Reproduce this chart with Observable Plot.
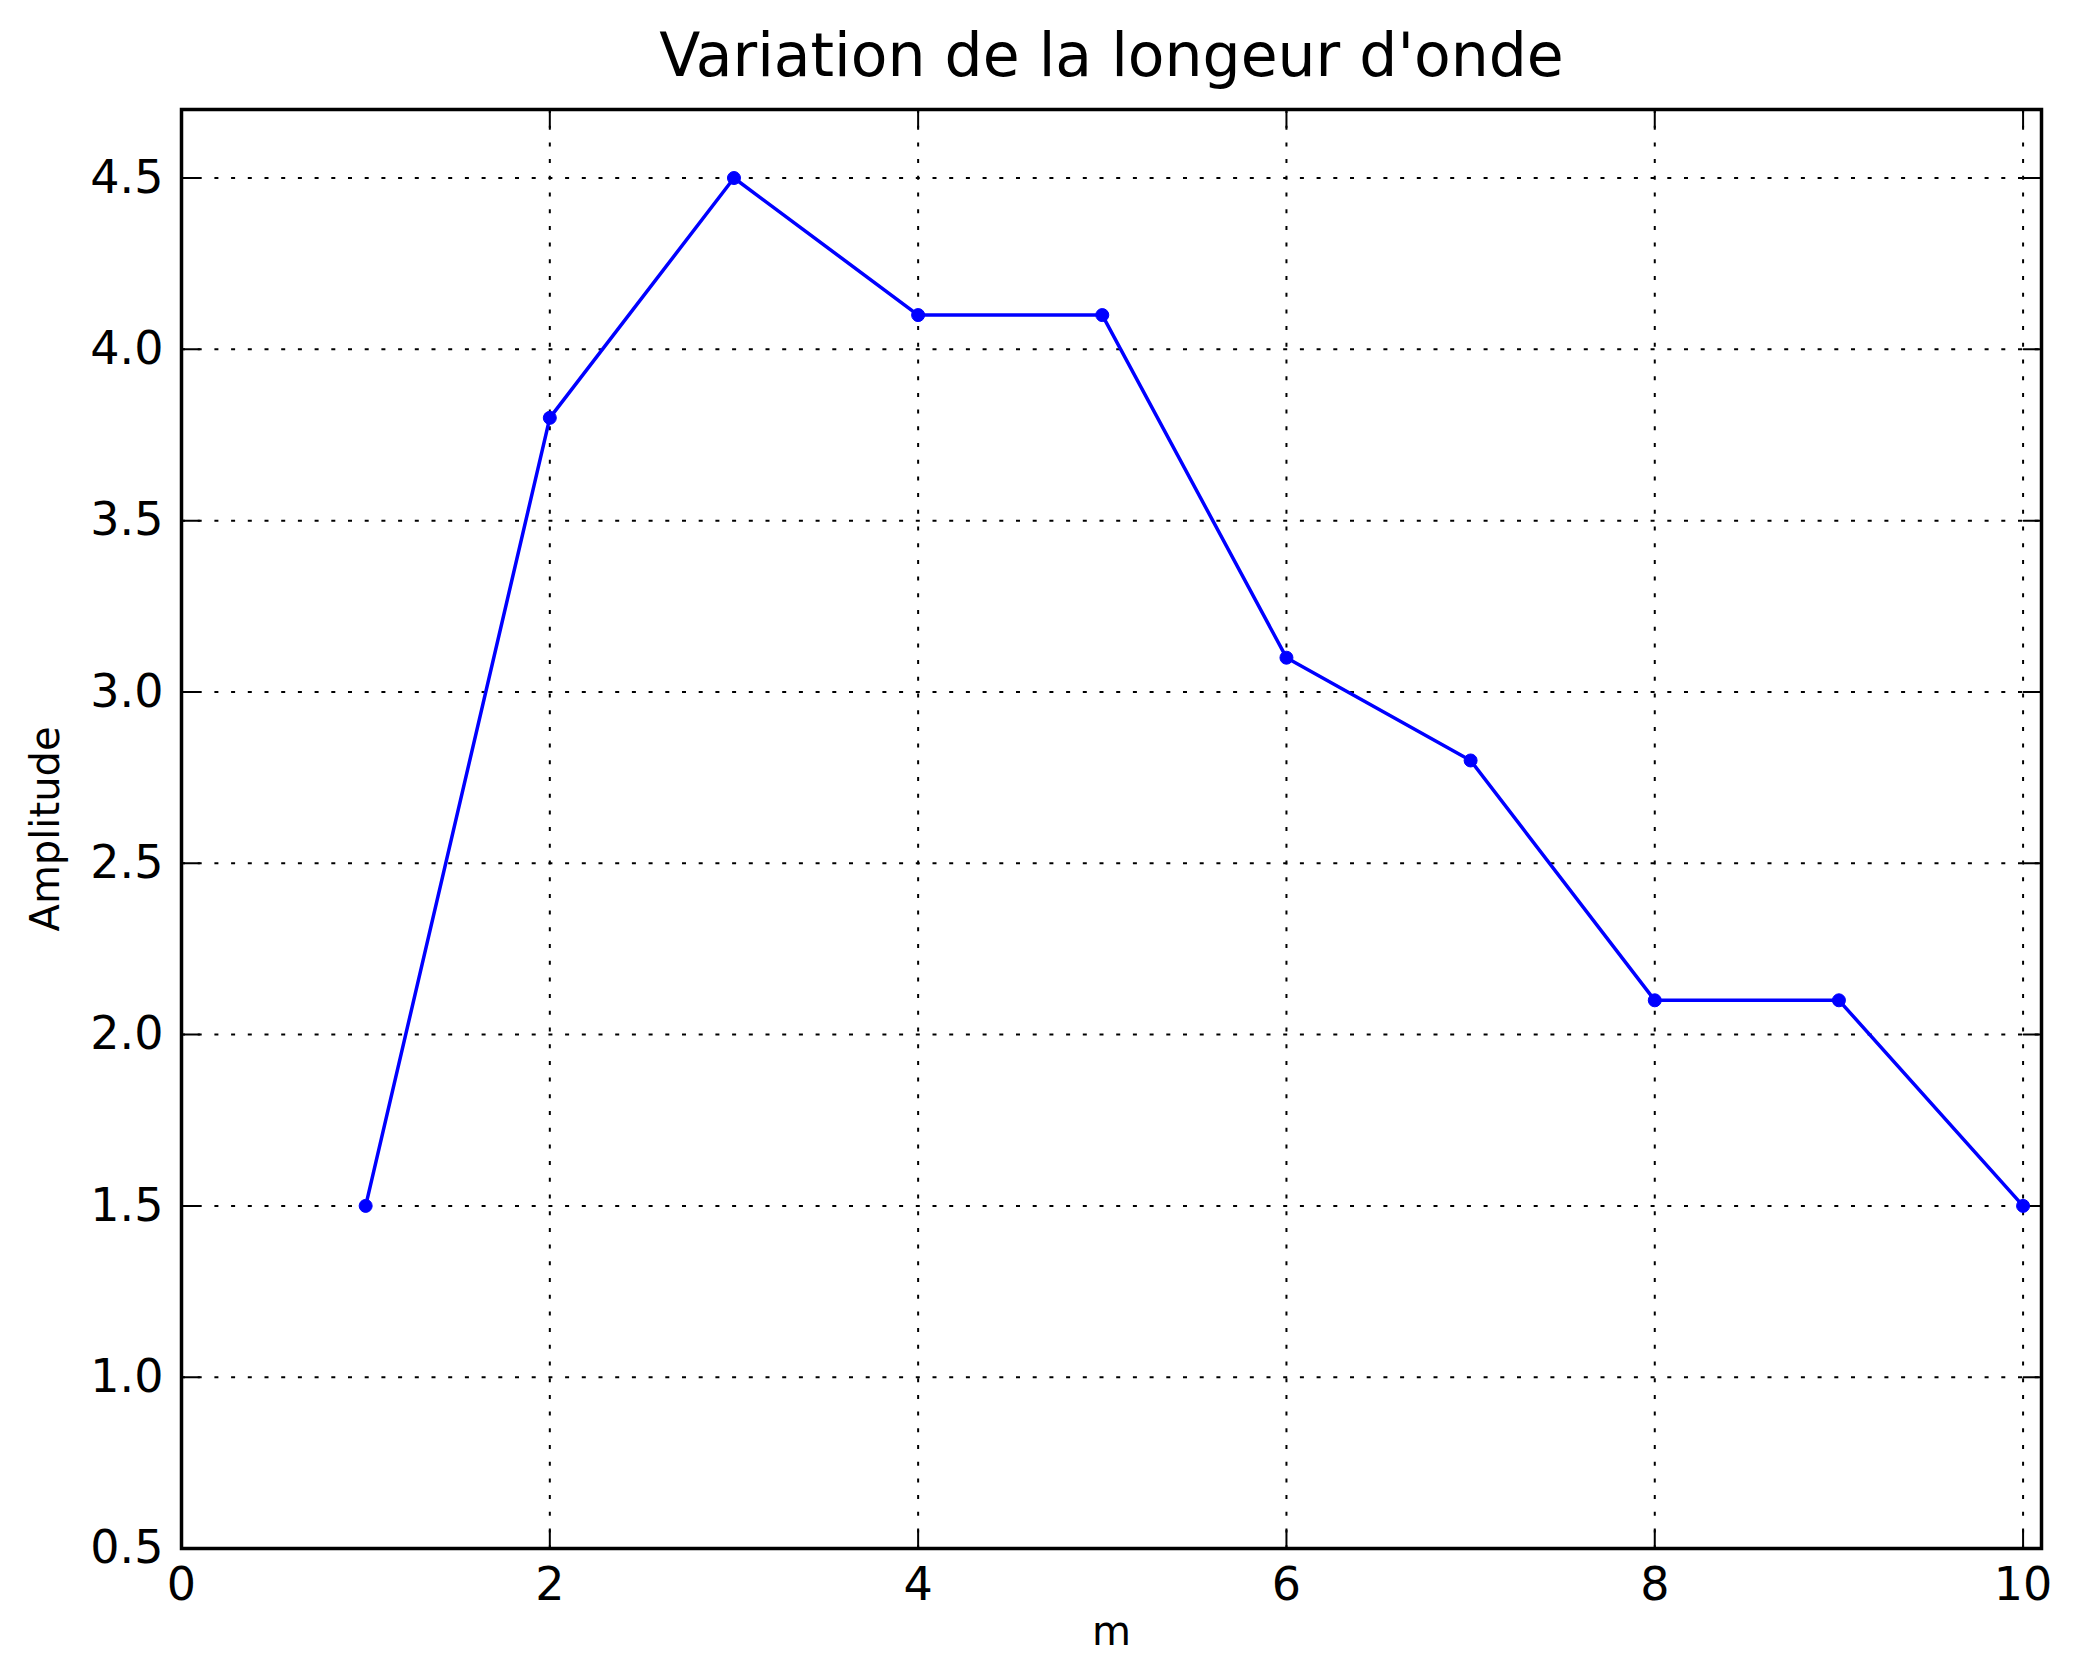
<!DOCTYPE html>
<html>
<head>
<meta charset="utf-8">
<script src="https://cdn.jsdelivr.net/npm/d3@7"></script>
<script src="https://cdn.jsdelivr.net/npm/@observablehq/plot@0.6"></script>
<style>
  html, body { margin: 0; padding: 0; background: #fff; }
</style>
</head>
<body>
<div id="chart"></div>
<script>
const titleText = "Variation de la longeur d'onde";
const xLabel = "m";
const yLabel = "Amplitude";
const xValues = [1, 2, 3, 4, 5, 6, 7, 8, 9, 10];
const yValues = [1.5, 3.8, 4.5, 4.1, 4.1, 3.1, 2.8, 2.1, 2.1, 1.5];
const xTicks = [0, 2, 4, 6, 8, 10];
const yTicks = [0.5, 1.0, 1.5, 2.0, 2.5, 3.0, 3.5, 4.0, 4.5];
const xDomain = [0, 10.1];
const yDomain = [0.5, 4.7];

const data = xValues.map((x, i) => ({x, y: yValues[i]}));
const font = "DejaVu Sans, Liberation Sans, sans-serif";
const tickShape = {draw(context, l) { context.moveTo(0, 0); context.lineTo(0, -l); }};
const tickLen = 18;

const chart = Plot.plot({
  width: 2079,
  height: 1676,
  marginLeft: 181,
  marginRight: 38,
  marginTop: 109,
  marginBottom: 128,
  style: {fontFamily: font, background: "#fff", color: "#000"},
  x: {domain: xDomain},
  y: {domain: yDomain},
  marks: [
    // grid
    Plot.ruleX(xTicks.filter(d => d > xDomain[0]), {stroke: "#000", strokeWidth: 2, strokeDasharray: "4,12.7"}),
    Plot.ruleY(yTicks.filter(d => d > yDomain[0]), {stroke: "#000", strokeWidth: 2, strokeDasharray: "4,12.7"}),
    // inward ticks
    Plot.vector(yTicks, {y: d => d, frameAnchor: "left", rotate: 90, anchor: "start", length: tickLen, shape: tickShape, stroke: "#000", strokeWidth: 2}),
    Plot.vector(yTicks, {y: d => d, frameAnchor: "right", rotate: -90, anchor: "start", length: tickLen, shape: tickShape, stroke: "#000", strokeWidth: 2}),
    Plot.vector(xTicks, {x: d => d, frameAnchor: "bottom", rotate: 0, anchor: "start", length: tickLen, shape: tickShape, stroke: "#000", strokeWidth: 2}),
    Plot.vector(xTicks, {x: d => d, frameAnchor: "top", rotate: 180, anchor: "start", length: tickLen, shape: tickShape, stroke: "#000", strokeWidth: 2}),
    // axes labels
    Plot.axisX({ticks: xTicks, tickSize: 0, tickPadding: 19, fontSize: 46, label: null, tickFormat: d3.format("d")}),
    Plot.axisY({ticks: yTicks, tickSize: 0, tickPadding: 18, fontSize: 46, label: null, tickFormat: d3.format(".1f")}),
    // data
    Plot.line(data, {x: "x", y: "y", stroke: "#0000ff", strokeWidth: 3.5}),
    Plot.dot(data, {x: "x", y: "y", r: 6.5, fill: "#0000ff", stroke: "#0000ff", strokeWidth: 1}),
    // frame
    Plot.frame({stroke: "#000", strokeWidth: 3.5}),
    // titles
    Plot.text([titleText], {text: d => d, frameAnchor: "top", dy: -53, lineAnchor: "middle", fontSize: 60, fill: "#000"}),
    Plot.text([xLabel], {text: d => d, frameAnchor: "bottom", dy: 84, lineAnchor: "middle", fontSize: 40, fill: "#000"}),
    Plot.text([yLabel], {text: d => d, frameAnchor: "left", dx: -135, rotate: -90, lineAnchor: "middle", textAnchor: "middle", fontSize: 40, fill: "#000"})
  ]
});
document.getElementById("chart").appendChild(chart);
</script>
</body>
</html>
